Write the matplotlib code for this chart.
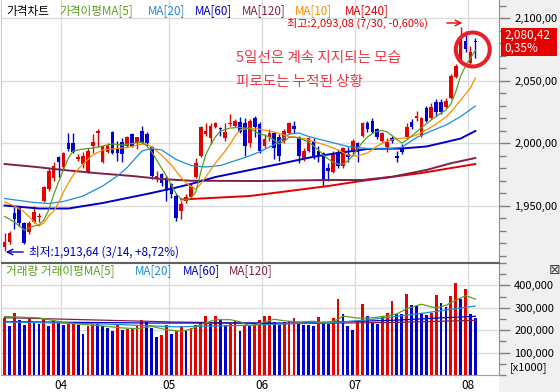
import numpy as np
import matplotlib
matplotlib.use('Agg')
import matplotlib.pyplot as plt
from matplotlib.patches import Rectangle, Ellipse
from matplotlib.ticker import MultipleLocator

plt.rcParams['font.family'] = ['Noto Sans CJK KR', 'DejaVu Sans']

# 일봉 (2014-03-14 ~ 2014-08-04)
opens = [1917, 1921, 1944, 1948, 1936, 1929, 1937, 1941, 1954, 1963,
         1972, 1989, 1981, 2000, 2000, 1987, 1983, 1977, 1998, 2008,
         1985, 1993, 2009, 1996, 2001, 1998, 2007, 2000, 2010, 2007,
         1997, 1972, 1975, 1972, 1967, 1958, 1946, 1954, 1957, 1973,
         1990, 2007, 2004, 2013, 2012, 2004, 2015, 2014, 2017, 2016,
         2000, 2020, 2015, 1998, 2005, 2008, 2005, 2002, 2008, 2014,
         2005, 1988, 1994, 2002, 1994, 1992, 1980, 1977, 1993, 1982,
         1991, 1993, 2000, 2006, 2016, 2018, 2011, 2002, 1997, 2004,
         1990, 1997, 2005, 2017, 2020, 2006, 2028, 2020, 2033, 2033,
         2029, 2036, 2053, 2066, 2082, 2064, 2082]
highs = [1928, 1929.5, 1949, 1949, 1937, 1938, 1950, 1944, 1966, 1980,
         1985, 1990, 1993, 2008, 2008, 1991, 1993, 1996, 2007, 2011,
         1998, 2000, 2010, 2002, 2004, 2006, 2008, 2005, 2014, 2009,
         1998, 1978, 1976, 1974, 1968, 1960, 1954, 1959, 1968, 1988,
         2014, 2016, 2016, 2017, 2013, 2016, 2023, 2019, 2021, 2020,
         2019, 2022, 2017, 2007, 2011, 2009, 2007, 2011, 2017, 2018,
         2006, 1996, 2005, 2004, 1998, 1993, 1984, 1994, 1995, 1997,
         1997, 2003, 2001, 2017, 2018, 2020, 2012, 2009, 2004, 2006,
         1994, 1999, 2016, 2019, 2026, 2021, 2030, 2032, 2035, 2035,
         2036, 2055, 2063, 2093.08, 2090, 2078, 2084]
lows = [1913.64, 1919, 1931, 1934, 1919, 1927, 1936, 1937, 1953, 1962,
        1970, 1973, 1979, 1994, 1992, 1986, 1980, 1976, 1992, 1997,
        1984, 1992, 1991, 1986, 1985, 1997, 1997, 1995, 1999, 1998,
        1971, 1969, 1966, 1954, 1956, 1938, 1939, 1952, 1955, 1972,
        1989, 2006, 1999, 2012, 2006, 2002, 2014, 2013, 2008, 1990,
        1997, 2005, 1992, 1996, 2002, 1987, 1986, 2000, 2007, 2008,
        1984, 1986, 1993, 1987, 1985, 1965, 1970, 1976, 1980, 1980,
        1985, 1991, 1985, 2005, 2009, 2008, 2003, 2001, 1993, 2000,
        1985, 1991, 2003, 2011, 2018, 2005, 2017, 2019, 2022, 2023,
        2028, 2035, 2052, 2064, 2073, 2062, 2068]
closes = [1920.73, 1928, 1939, 1936, 1920, 1936, 1945, 1942, 1965, 1978,
          1982, 1985, 1992, 1995, 1993, 1989, 1990, 1994, 2001, 2010,
          1997.6, 1998, 1992, 1992, 1991, 2005, 1998, 2005, 2000, 2000,
          1974, 1974, 1968, 1962, 1959, 1940, 1951, 1957, 1966, 1984,
          2013, 2010, 2014, 2016, 2011, 2009, 2016, 2018, 2009, 1998,
          2018, 2013, 1994, 2003, 2008, 1996, 1990, 2010, 2016, 2011,
          1990, 1994, 2004, 1989, 1990, 1971, 1978, 1992, 1982, 1996,
          1989, 2002, 1993, 2016, 2011, 2009, 2005, 2008, 2001, 2002,
          1988, 1993, 2013, 2013, 2022, 2020, 2018, 2029, 2025, 2025,
          2034, 2054, 2062, 2082, 2075, 2073.16, 2080.42]
# 거래량 (단위: 1000주)
volumes = [255000, 219000, 277000, 247000, 225000, 252000, 237000, 226000, 252000, 219000,
           244000, 232000, 222000, 229000, 231000, 222000, 185000, 218000, 229000, 226000,
           218000, 210000, 195000, 222000, 200000, 207000, 210000, 219000, 244000, 237000,
           210000, 170000, 180000, 225000, 182000, 195000, 219000, 200000, 210000, 225000,
           231000, 262000, 228000, 264000, 244000, 225000, 229000, 243000, 195000, 222000,
           219000, 222000, 247000, 264000, 265000, 237000, 225000, 236000, 240000, 255000,
           229000, 225000, 224000, 218000, 259000, 230000, 228000, 255000, 338000, 274000,
           218000, 200000, 240000, 319000, 262000, 230000, 228000, 262000, 277000, 330000,
           274000, 271000, 360000, 314000, 307000, 279000, 267000, 277000, 356000, 323000,
           304000, 353000, 411000, 341000, 386000, 271000, 255000]

# 이동평균선
ma5_x = [0, 2, 4, 6, 7, 8, 9, 10, 11, 12, 13, 14, 16, 18, 20, 22, 24, 26, 28, 29,
         30, 31, 32, 33, 34, 35, 36, 37, 38, 39, 40, 41, 42, 43, 44, 46, 48, 50, 52, 53,
         54, 56, 57, 58, 59, 60, 62, 64, 65, 66, 67, 68, 69, 70, 71, 72, 73, 74, 75, 76,
         77, 78, 79, 80, 81, 82, 83, 84, 85, 86, 87, 88, 89, 90, 91, 92, 93, 94, 95, 96]
ma5_y = [1941.2, 1936.8, 1930.4, 1933.6, 1934.4, 1938.4, 1946.4, 1958.4, 1968.8, 1978.4,
         1988, 1993.6, 1995.2, 1996, 1997.6, 1999.2, 1998.4, 1999.6, 2000.8, 1997.6,
         1992.8, 1986.4, 1980, 1973.6, 1966.4, 1959.2, 1955.2, 1954.4, 1956, 1960.8,
         1976.8, 1990.4, 1998.4, 2004.8, 2009.6, 2012, 2012.4, 2011.6, 2007.2, 2006.4,
         2004.8, 1999.2, 2001.6, 2004.4, 2004.8, 2004, 2000.8, 1994.4, 1990.4, 1987.2,
         1984.8, 1983.2, 1983.2, 1985.6, 1989.6, 1995.2, 2000.8, 2004.8, 2007.6, 2009.2,
         2010, 2008.8, 2006, 2002.8, 2000, 2002.4, 2005.6, 2008.8, 2012.4, 2015.2,
         2018.4, 2021.2, 2024, 2026.4, 2031.2, 2040.8, 2053.6, 2061.6, 2068, 2074]
ma10_x = [0, 2, 4, 6, 7, 8, 9, 10, 11, 12, 13, 14, 15, 16, 18, 20, 22, 25, 28, 29,
          30, 31, 32, 34, 36, 37, 38, 39, 40, 41, 42, 43, 44, 45, 46, 47, 48, 50, 52, 55,
          58, 61, 64, 66, 68, 70, 72, 74, 76, 78, 80, 82, 84, 86, 88, 90, 91, 92, 93, 94,
          95, 96]
ma10_y = [1952.8, 1949.6, 1944.8, 1937, 1933.6, 1936, 1941.6, 1945.6, 1952, 1960.8,
          1968, 1974.4, 1979.2, 1983.2, 1990.4, 1994.4, 1995.2, 1996.4, 1999.2, 1998.8,
          1996.8, 1993.6, 1990.4, 1982.4, 1972.4, 1968, 1965.2, 1963.2, 1967.2, 1972.8,
          1978.4, 1984, 1988.8, 1993.6, 1999.2, 2005.6, 2010.4, 2011.8, 2011, 2008.8,
          2005.2, 2003.6, 2000, 1997.6, 1994.4, 1990.4, 1989.6, 1992, 1997.6, 2001.6,
          2003.6, 2004, 2006.4, 2010.4, 2015.2, 2020.8, 2024.8, 2029.6, 2034.4, 2039.2,
          2044, 2052]
ma20_x = [0, 3, 6, 9, 12, 16, 20, 23, 25, 28, 30, 32, 35, 38, 41, 44, 49, 52, 55, 58,
          60, 62, 66, 70, 74, 78, 81, 84, 87, 90, 93, 96]
ma20_y = [1955.6, 1954, 1952.4, 1951.6, 1953.2, 1957.6, 1965.6, 1973.6, 1980.4, 1993.6,
          1995.6, 1994.4, 1986.8, 1982, 1980.8, 1982, 1988.4, 1992.8, 1998.8, 2007.2,
          2008, 2005.2, 2001.2, 1997.2, 1995.6, 1995.2, 1996.6, 2004.4, 2009.6, 2014.4,
          2021.2, 2029.6]
ma60_x = [0, 7, 13, 20, 29, 35, 38, 43, 50, 56, 63, 68, 74, 81, 86, 90, 93, 96]
ma60_y = [1950, 1947.6, 1947.6, 1952, 1959.2, 1964.4, 1967.2, 1972.8, 1978.4, 1983.2,
          1989, 1992, 1995.2, 1995.6, 1997.2, 2000.8, 2003.6, 2009.6]
ma120_x = [0, 6, 12, 19, 26, 32, 38, 52, 66, 73, 79, 86, 91, 96]
ma120_y = [1983.2, 1981, 1978.4, 1975.8, 1973.6, 1971.2, 1969.8, 1969.6, 1970.4, 1970.4,
           1973, 1978.4, 1983.8, 1988]
ma240_x = [36, 50, 58, 66, 72, 85, 96]
ma240_y = [1954.8, 1957.6, 1961.6, 1965.6, 1969.2, 1976, 1983.2]

vma5_x = [0, 7, 13, 20, 24, 27, 30, 33, 36, 38, 40, 43, 46, 48, 50, 52, 55, 57, 60, 63,
          66, 68, 69, 72, 75, 78, 80, 82, 85, 87, 88, 90, 92, 94, 95, 96]
vma5_y = [261000, 255000, 231000, 219000, 210000, 207000, 217000, 202000, 195000, 204000,
          225000, 247000, 247000, 238000, 219000, 230000, 249000, 242000, 237000, 240000,
          230000, 249000, 263000, 254000, 255000, 264000, 273000, 296000, 316000, 304000,
          299000, 311000, 334000, 354000, 347000, 338000]
vma20_x = [0, 20, 35, 50, 60, 68, 74, 80, 86, 91, 96]
vma20_y = [237000, 228000, 215000, 222000, 231000, 235000, 246000, 262000, 278000, 293000, 308000]
vma60_x = [0, 30, 60, 80, 88, 96]
vma60_y = [238000, 232000, 232000, 245000, 254000, 262000]
vma120_x = [0, 16, 34, 57, 80, 96]
vma120_y = [256000, 247000, 237000, 229000, 235000, 244000]

month_idx = [12, 34, 53, 72, 95]
month_lbl = ['04', '05', '06', '07', '08']
hi_date, lo_date = '7/30', '3/14'

RED = '#e60000'
BLUE = '#0000d2'
C5, C10, C20, C60, C120, C240 = '#5aa01e', '#ff8c00', '#1e8cdc', '#0000c8', '#80204a', '#e60000'
GRID = '#dcdcdc'

W, H = 560, 392


def fx(px):
    return px / W


def fy(py):
    return 1 - py / H


def kfmt(v):
    return f'{v:,.2f}'.replace('.', ',')


def ftext(px, py, s, **kw):
    fig.text(fx(px), fy(py), s, va='center', ha=kw.pop('ha', 'left'), **kw)


fig = plt.figure(figsize=(W / 100, H / 100), dpi=100)
fig.patch.set_facecolor('white')
fig.add_artist(Rectangle((fx(499), 0), 1 - fx(499), 1, transform=fig.transFigure,
                         facecolor='#f0f0f0', edgecolor='none', zorder=0))

ax = fig.add_axes([fx(1), fy(262), fx(499) - fx(1), 1 - fy(262)])
av = fig.add_axes([fx(1), fy(375), fx(499) - fx(1), fy(263) - fy(375)])

x = np.arange(len(closes))
o, c = np.array(opens), np.array(closes)
hi, lo = np.array(highs), np.array(lows)
ccol = np.where(c >= o, RED, BLUE)

# 가격 차트
for m in month_idx:
    ax.axvline(m - 0.5, color=GRID, lw=1, zorder=1)
    av.axvline(m - 0.5, color=GRID, lw=1, zorder=1)
for p in [1950, 2000, 2050, 2100]:
    ax.axhline(p, color=GRID, lw=1, zorder=1)

ax.vlines(x, lo, hi, colors=ccol, lw=1, zorder=3)
ax.bar(x, np.maximum(np.abs(c - o), 0.8), bottom=np.minimum(o, c), width=0.74,
       color=ccol, lw=0, zorder=4)

for xs, ys, col, w in [(ma240_x, ma240_y, C240, 1.4), (ma120_x, ma120_y, C120, 1.4),
                       (ma60_x, ma60_y, C60, 1.4), (ma20_x, ma20_y, C20, 0.9),
                       (ma10_x, ma10_y, C10, 0.9), (ma5_x, ma5_y, C5, 0.9)]:
    ax.plot(xs, ys, color=col, lw=w, zorder=5)

ax.add_patch(Ellipse((95.47, 2074.8), 6.93, 27.2, fill=False, ec='#e8202a', lw=2.9, zorder=7))

ax.set_xlim(-0.734, 100.82)
ax.set_ylim(1904.8, 2114.4)
ax.set_xticks([])
ax.yaxis.tick_right()
ax.set_yticks([1950, 2000, 2050, 2100])
ax.set_yticklabels([kfmt(v) for v in [1950, 2000, 2050, 2100]])
ax.yaxis.set_minor_locator(MultipleLocator(10))
ax.tick_params(axis='y', which='major', length=8, width=1, color='#808080', labelsize=8, pad=3)
ax.tick_params(axis='y', which='minor', length=5, width=1, color='#808080')
ax.spines['top'].set_visible(False)
ax.spines['left'].set_color('#c8c8c8')
ax.spines['right'].set_color('#909090')
ax.spines['bottom'].set_color('#606060')

# 거래량
vol = np.array(volumes)
vcol = [RED] + [RED if vol[i] >= vol[i - 1] else BLUE for i in range(1, len(vol))]
for v in [100000, 200000, 300000, 400000]:
    av.axhline(v, color=GRID, lw=1, zorder=1)
av.bar(x, vol, width=0.58, color=vcol, lw=0, zorder=3)
for xs, ys, col in [(vma120_x, vma120_y, C120), (vma60_x, vma60_y, C60),
                    (vma20_x, vma20_y, C20), (vma5_x, vma5_y, C5)]:
    av.plot(xs, ys, color=col, lw=0.9, zorder=4)

av.set_xlim(-0.734, 100.82)
av.set_ylim(0, 500000)
av.set_xticks([m - 0.5 for m in month_idx])
av.set_xticklabels(month_lbl)
av.tick_params(axis='x', length=0, labelsize=8.5, pad=3)
av.yaxis.tick_right()
av.set_yticks([100000, 200000, 300000, 400000])
av.set_yticklabels([f'{v:,}' for v in [100000, 200000, 300000, 400000]])
av.yaxis.set_minor_locator(MultipleLocator(50000))
av.tick_params(axis='y', which='major', length=8, width=1, color='#808080', labelsize=8, pad=3)
av.tick_params(axis='y', which='minor', length=5, width=1, color='#808080')
av.spines['top'].set_color('#606060')
av.spines['left'].set_color('#c8c8c8')
av.spines['right'].set_color('#909090')
av.spines['bottom'].set_color('#a0a0a0')

# 범례 텍스트
FS = 8.4
for px, s, col in [(6, '가격차트', 'black'), (59, '가격이평MA[5]', C5), (148, 'MA[20]', C20),
                   (195, 'MA[60]', C60), (242, 'MA[120]', C120), (295, 'MA[10]', C10),
                   (345, 'MA[240]', C240)]:
    ftext(px, 11, s, color=col, fontsize=FS)
for px, s, col in [(6, '거래량 거래이평MA[5]', C5), (135, 'MA[20]', C20),
                   (183, 'MA[60]', C60), (229, 'MA[120]', C120)]:
    ftext(px, 271, s, color=col, fontsize=FS)

# 최고/최저 표시
hmax, lmin = max(highs), min(lows)
pct_h = f'{(closes[-1] / hmax - 1) * 100:+.2f}'.replace('.', ',')
pct_l = f'{(closes[-1] / lmin - 1) * 100:+.2f}'.replace('.', ',')
ftext(287, 23, f'최고:{kfmt(hmax)} ({hi_date}, {pct_h}%)', color=RED, fontsize=8)
ax.annotate('', xy=(fx(465), fy(23)), xytext=(fx(444), fy(23)), xycoords='figure fraction',
            arrowprops=dict(arrowstyle='->', color=RED, lw=1))
ax.annotate('', xy=(fx(3), fy(252)), xytext=(fx(26), fy(252)), xycoords='figure fraction',
            arrowprops=dict(arrowstyle='->', color='#0000c8', lw=1))
ftext(29, 252, f'최저:{kfmt(lmin)} ({lo_date}, {pct_l}%)', color='#0000c8', fontsize=8.4)

# 코멘트
ftext(236, 58, '5일선은 계속 지지되는 모습', color='#ee3a4a', fontsize=10.5)
ftext(236, 82, '피로도는 누적된 상황', color='#ee3a4a', fontsize=10.5)

# 현재가 박스
chg = (closes[-1] / closes[-2] - 1) * 100
fig.add_artist(Rectangle((fx(501), fy(56)), fx(557) - fx(501), fy(28) - fy(56),
                         transform=fig.transFigure, facecolor=RED, edgecolor='none', zorder=5))
ftext(504, 35, kfmt(closes[-1]), color='white', fontsize=8.5, zorder=6)
ftext(504, 48, f'{chg:.2f}%'.replace('.', ','), color='white', fontsize=8.5, zorder=6)

ftext(510, 368, '[x1000]', color='black', fontsize=8)
ftext(549, 270, '⊠', color='#404040', fontsize=10, family='DejaVu Sans')

fig.savefig('out.png', dpi=100)
